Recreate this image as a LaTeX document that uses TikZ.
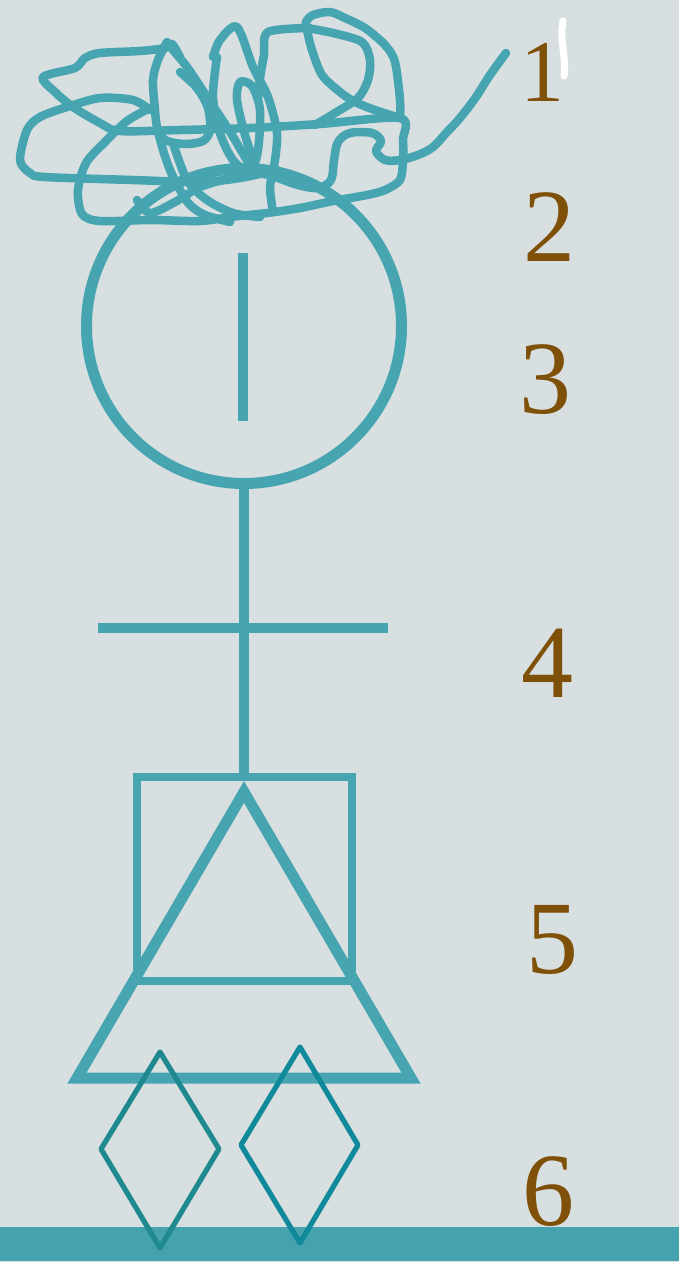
\documentclass[tikz,border=0pt]{standalone}
\usepackage{fontspec}
\setmainfont{Liberation Serif}
\definecolor{bg}{HTML}{D8DFE0}
\definecolor{tealA}{HTML}{46A5B1}
\definecolor{tealBar}{HTML}{45A2AF}
\definecolor{gemA}{HTML}{1E8A90}
\definecolor{gemB}{HTML}{10899A}
\definecolor{brownA}{HTML}{7E5008}
\begin{document}
\begin{tikzpicture}[x=1pt,y=-1pt,
  scrib/.style={draw=tealA, line width=8.5, line cap=round, line join=round},
  num/.style={text=brownA, inner sep=0, font=\fontsize{104}{104}\selectfont},
  gem/.style={line width=5.2, line join=round},
  stroke/.style={draw=tealA}]
\fill[bg] (0,0) rectangle (679,1262);
\useasboundingbox (0,0) rectangle (679,1262);

% bottom bar
\fill[tealBar] (0,1227) rectangle (679,1261);

% head
\node[stroke, line width=11, circle, minimum size=315, inner sep=0] (head) at (244,326) {};
\coordinate (mt) at (243,253);
\coordinate (mb) at (243,421);
\draw[tealA, line width=9.5] (mt) -- (mb);

% box and triangle
\node[stroke, line width=8, minimum width=215, minimum height=204, inner sep=0] (box) at (244,878.5) {};
\draw[tealA, line width=10.5] (head.south) -- (box.north);
\coordinate (barL) at (98,628);
\coordinate (barR) at (388,628);
\draw[tealA, line width=10] (barL) -- (barR);
\coordinate (tA) at (244,792);
\coordinate (tR) at (411,1078);
\coordinate (tL) at (77,1078);
\draw[tealA, line width=11, line join=miter] (tA) -- (tR) -- (tL) -- cycle;

% diamonds
\draw[gem, gemA] (160,1052) -- (219,1149) -- (160,1248) -- (101,1149) -- cycle;
\draw[gem, gemB] (300,1047) -- (358,1145) -- (300,1243) -- (241,1145) -- cycle;

% scribble
\draw[scrib] plot[smooth, tension=0.55] coordinates {(506,53) (490,75) (476,97) (460,118) (447,132) (433,147) (418,155) (400,160) (385,160) (376,151) (381,141) (372,133) (350,133) (338,142) (334,160) (331,180) (318,188) (298,185) (275,177) (256,172)};
\draw[scrib] plot[smooth, tension=0.5] coordinates {(180,57) (172,44) (165,48) (140,51) (100,53) (85,58) (75,68) (43,77) (55,92) (73,107) (100,123) (120,131) (180,130) (250,128) (320,124) (400,118) (403,140) (403,160) (400,180) (385,190) (367,195) (333,201) (300,208) (267,213) (230,217) (200,221) (150,220) (100,221) (82,214) (78,190) (86,163) (105,142) (127,121) (150,108)};
\draw[scrib] plot[smooth, tension=0.5] coordinates {(150,110) (133,100) (100,98) (67,107) (40,117) (27,130) (20,160) (30,173) (45,177) (133,180) (200,182) (240,178) (277,170)};
\draw[scrib] plot[smooth, tension=0.5] coordinates {(400,118) (400,100) (395,62) (385,45) (365,28) (345,18) (330,12) (313,15) (306,22) (307,30) (312,50) (322,75) (340,92) (355,102) (375,110) (400,118)};
\draw[scrib] plot[smooth, tension=0.5] coordinates {(307,28) (333,33) (362,42) (370,60) (368,80) (358,98) (335,113) (315,125)};
\draw[scrib] plot[smooth, tension=0.5] coordinates {(310,28) (268,32) (264,55) (260,78) (258,100)};
\draw[scrib] plot[smooth, tension=0.5] coordinates {(213,57) (220,40) (237,27) (253,67) (268,97) (277,133) (274,167) (270,187) (273,212)};
\draw[scrib] plot[smooth, tension=0.5] coordinates {(217,57) (213,97) (220,133) (233,160) (250,172) (258,150) (260,110) (252,86) (240,82) (237,100) (245,135) (255,165)};
\draw[scrib] plot[smooth, tension=0.5] coordinates {(167,42) (158,60) (153,80) (155,110) (157,127) (163,150) (170,170) (180,190) (190,205) (205,215) (230,222)};
\draw[scrib] plot[smooth, tension=0.5] coordinates {(167,43) (187,67) (207,97) (227,127) (245,157) (255,175)};
\draw[scrib] plot[smooth, tension=0.5] coordinates {(157,127) (165,140) (185,144) (203,141) (210,130) (208,108) (197,88) (180,72)};
\draw[scrib] plot[smooth, tension=0.5] coordinates {(137,200) (150,213) (175,202) (200,187) (233,177) (250,172)};
\draw[scrib] plot[smooth, tension=0.5] coordinates {(173,143) (187,180) (207,200) (233,213) (260,217)};

% white mark
\draw[white, line width=7, line cap=round] (563,21) .. controls (559,40) and (567,60) .. (564,76);

% numbers
\node[num, font=\fontsize{88}{88}\selectfont] (n1) at (542,72.5) {1};
\node[num] (n2) at (549.5,227.5) {2};
\node[num] (n3) at (545.5,380) {3};
\node[num] (n4) at (547,663) {4};
\node[num] (n5) at (552,940) {5};
\node[num] (n6) at (548,1191.5) {6};
\end{tikzpicture}
\end{document}
